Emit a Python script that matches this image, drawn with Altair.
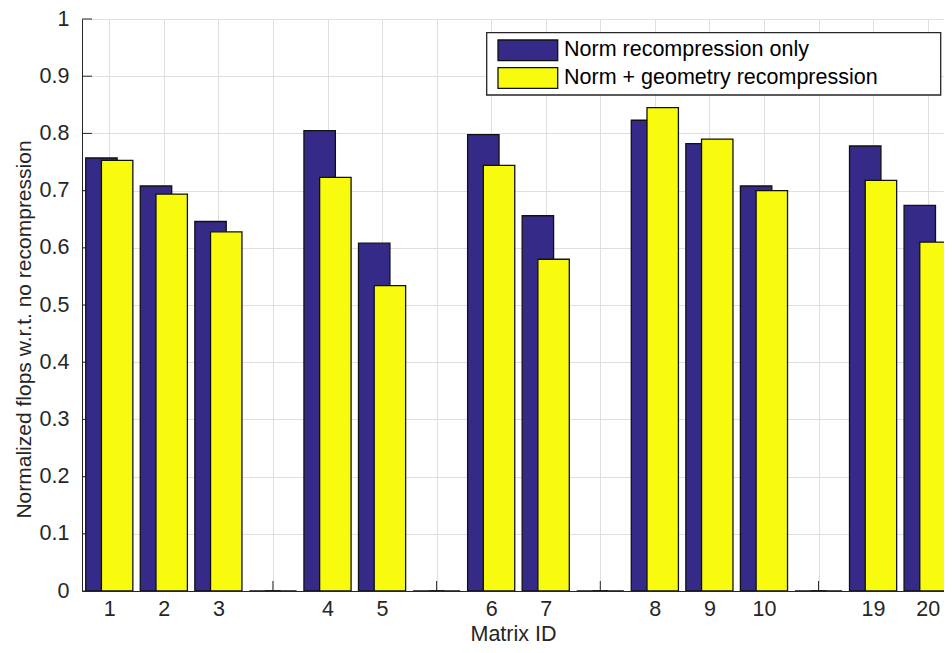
import altair as alt
import pandas as pd

# ---- data ----
SERIES = ["Norm recompression only", "Norm + geometry recompression"]
COLORS = ["#352A87", "#F9FB0E"]
TICK_LABELS = ["1", "2", "3", "", "4", "5", "", "6", "7", "", "8", "9", "10", "", "19", "20"]
NORM_ONLY = [0.757, 0.708, 0.646, 0, 0.805, 0.608, 0, 0.798, 0.656, 0, 0.823, 0.782, 0.708, 0, 0.778, 0.674]
NORM_GEOM = [0.753, 0.694, 0.628, 0, 0.723, 0.534, 0, 0.744, 0.580, 0, 0.845, 0.790, 0.700, 0, 0.718, 0.610]
Y_TICKS = [0, 0.1, 0.2, 0.3, 0.4, 0.5, 0.6, 0.7, 0.8, 0.9, 1.0]
X_TITLE = "Matrix ID"
Y_TITLE = "Normalized flops w.r.t. no recompression"

positions = list(range(1, len(TICK_LABELS) + 1))

rows = []
for si, (name, vals) in enumerate(zip(SERIES, [NORM_ONLY, NORM_GEOM])):
    for p, v in zip(positions, vals):
        rows.append({"series": name, "si": si, "pos": p, "value": v})
bars_df = pd.DataFrame(rows)
legend_df = pd.DataFrame({"series": SERIES, "si": list(range(len(SERIES)))})
ytick_df = pd.DataFrame({"v": Y_TICKS})
xtick_df = pd.DataFrame({"pos": positions})

W, H = 862, 572
TOP = 11
FONT = "Liberation Sans"
FS = 21.5
TXT = "#262626"

xscale = alt.Scale(domain=[0.5, 16.3], nice=False, zero=False)
yscale = alt.Scale(domain=[0, 1], nice=False)
cscale = alt.Scale(domain=SERIES, range=COLORS)

label_expr = "[" + ",".join("'%s'" % t for t in TICK_LABELS) + "][datum.value - 1]"

x_axis = alt.Axis(values=positions, labelExpr=label_expr, title=X_TITLE,
                  titleX=431, titleY=49.5, titleAlign="center", titleBaseline="alphabetic",
                  labelPadding=7, labelFlush=False, grid=True)
y_axis = alt.Axis(values=Y_TICKS, format=".1~f", title=Y_TITLE,
                  titleX=-52, titleY=310, titleAngle=270, titleAlign="center",
                  titleBaseline="alphabetic", titleFontSize=21, labelPadding=13, grid=True)

# inward tick marks (MATLAB style)
yticks = alt.Chart(ytick_df).mark_rule(color=TXT, strokeWidth=1).encode(
    y=alt.Y("v:Q", scale=yscale, axis=y_axis),
    x=alt.value(0), x2=alt.value(10),
)
xticks = alt.Chart(xtick_df).mark_rule(color=TXT, strokeWidth=1).encode(
    x=alt.X("pos:Q", scale=xscale, axis=x_axis),
    y=alt.value(H), y2=alt.value(H - 10),
)

bars = alt.Chart(bars_df).transform_calculate(
    x0="datum.pos + (datum.si == 0 ? -0.432 : -0.144)",
    x1="datum.pos + (datum.si == 0 ? 0.144 : 0.432)",
).mark_bar(stroke="#111111", strokeWidth=1.3, clip=True).encode(
    x=alt.X("x0:Q", scale=xscale, axis=x_axis),
    x2="x1:Q",
    y=alt.Y("value:Q", scale=yscale, axis=y_axis),
    y2=alt.datum(0),
    color=alt.Color("series:N", scale=cscale, legend=None),
    order=alt.Order("si:Q"),
)

# legend drawn inside the plot, top right
leg_box = alt.Chart(legend_df).transform_filter("datum.si == 0").mark_rect(
    fill="white", stroke=TXT, strokeWidth=1.3
).encode(
    x=alt.value(404.7), x2=alt.value(858.7), y=alt.value(13.7), y2=alt.value(76),
)
leg_sw = alt.Chart(legend_df).transform_calculate(
    ly0="21 + 27.7 * datum.si", ly1="41.7 + 27.7 * datum.si"
).mark_rect(stroke="#111111", strokeWidth=1.3).encode(
    x=alt.value(416), x2=alt.value(475.7),
    y=alt.Y("ly0:Q", scale=None, axis=None), y2="ly1:Q",
    color=alt.Color("series:N", scale=cscale, legend=None),
)
leg_tx = alt.Chart(legend_df).transform_calculate(
    ty="31.3 + 27.7 * datum.si"
).mark_text(align="left", baseline="middle", font=FONT, fontSize=FS, color="#000000").encode(
    x=alt.value(482),
    y=alt.Y("ty:Q", scale=None, axis=None),
    text="series:N",
)

chart = alt.layer(yticks, xticks, bars, leg_box, leg_sw, leg_tx).properties(
    width=W, height=H,
    autosize=alt.AutoSizeParams(type="none"),
    padding={"left": 74, "top": TOP, "right": 0, "bottom": 637 - TOP - H},
).configure_view(stroke=None).configure_axis(
    domainColor=TXT, domainWidth=1, ticks=False,
    gridColor="#dfdfdf", gridWidth=1,
    labelFont=FONT, labelFontSize=FS, labelColor=TXT,
    titleFont=FONT, titleFontSize=FS, titleColor=TXT, titleFontWeight="normal",
)

chart.save("out.html", embed_options={"renderer": "svg", "actions": False})
